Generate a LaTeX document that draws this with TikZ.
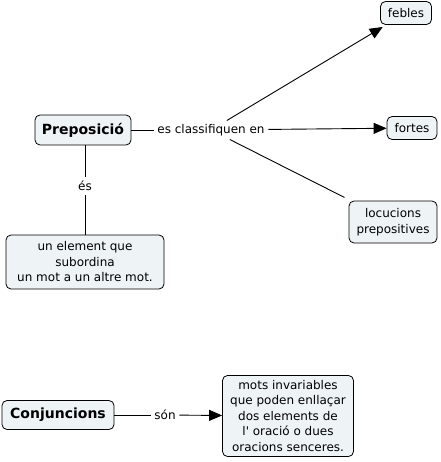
\documentclass[tikz,border=0pt]{standalone}
\usepackage{fontspec}
\setmainfont{DejaVu Sans}
\usetikzlibrary{arrows.meta,positioning}
\definecolor{boxfill}{RGB}{238,243,245}

\begin{document}
\begin{tikzpicture}[x=1pt, y=-1pt,
  concept/.style={draw, line width=0.8pt, rounded corners=5pt, fill=boxfill, font=\fontsize{12}{15.5}\selectfont, align=center, inner sep=2pt},
  mainc/.style={concept, font=\fontsize{14}{16}\bfseries},
  linkw/.style={font=\fontsize{12}{14}\selectfont, inner sep=3.5pt},
  conn/.style={line width=0.9pt},
  act/.style={conn, -{Triangle[length=13pt, width=11pt]}}]
  \useasboundingbox (0,0) rectangle (440,462);
  % preposicio
  \node[mainc, minimum width=96pt, minimum height=30pt] (prep) at (83,130) {Preposició};
  \node[linkw] (cls) at (211,130) {es classifiquen en};
  \node[concept, minimum width=51pt, minimum height=23pt] (feb) at (406,13) {febles};
  \node[concept, minimum width=50pt, minimum height=23pt] (fort) at (412,128) {fortes};
  \node[concept, minimum width=88pt, minimum height=42pt] (loc) at (393,222) {locucions\\prepositives};
  \node[linkw] (es) at (85,186) {és};
  \node[concept, minimum width=158pt, minimum height=54pt] (elem) at (85,262) {un element que\\subordina\\un mot a un altre mot.};
  \draw[conn] (prep) -- (cls);
  \draw[act, shorten >=4pt] (cls) -- (feb);
  \draw[act] (cls) -- (fort);
  \draw[conn, shorten >=7pt] (cls) -- (loc);
  \draw[conn] (prep.south -| es) -- (es);
  \draw[conn] (es) -- (elem);
  % conjuncions
  \node[mainc, minimum width=112pt, minimum height=29pt] (conj) at (58,415) {Conjuncions};
  \node[linkw] (son) at (165,415) {són};
  \node[concept, minimum width=131pt, minimum height=81pt] (mots) at (288,416) {mots invariables\\que poden enllaçar\\dos elements de\\l\textquotesingle{} oració o dues\\oracions senceres.};
  \draw[conn] (conj) -- (son);
  \draw[act] (son) -- (mots);
\end{tikzpicture}
\end{document}
